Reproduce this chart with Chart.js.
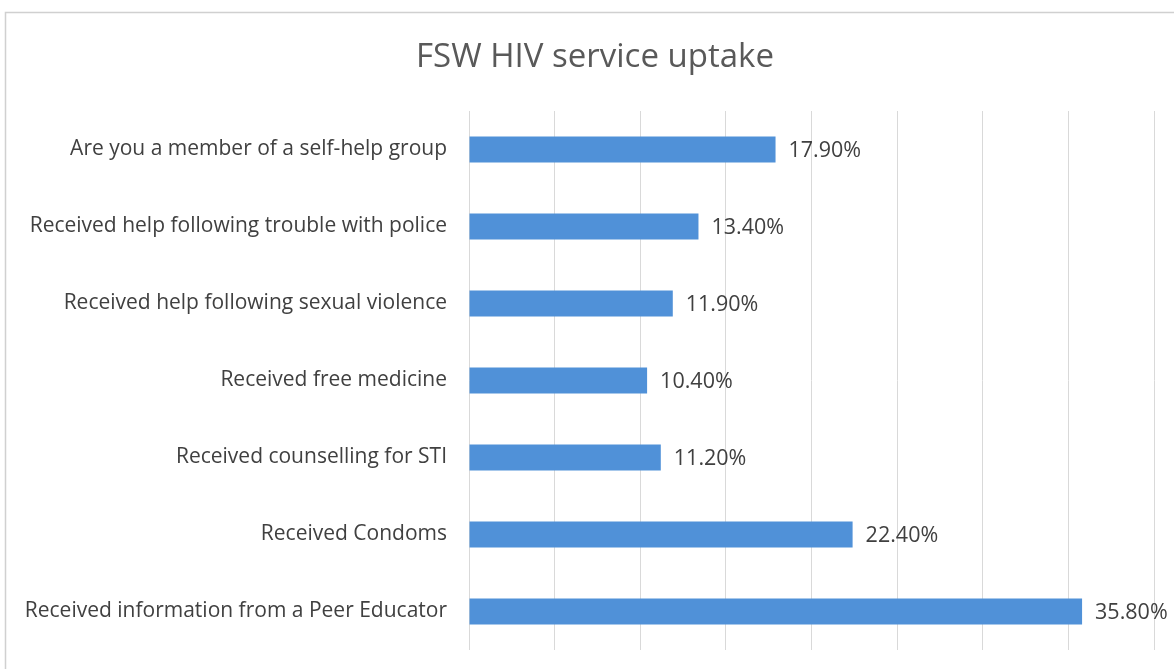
<!DOCTYPE html>
<html>
<head>
<meta charset="utf-8">
<script src="https://cdn.jsdelivr.net/npm/chart.js@4.4.0/dist/chart.umd.min.js"></script>
<style>
  body { margin: 0; background: #fff; }
  #wrap { width: 1174px; height: 669px; }
</style>
</head>
<body>
<div id="wrap"><canvas id="uptakeChart" width="1174" height="669"></canvas></div>
<script>
const chartTitle = "FSW HIV service uptake";
const categories = [
  "Are you a member of a self-help group",
  "Received help following trouble with police",
  "Received help following sexual violence",
  "Received free medicine",
  "Received counselling for STI",
  "Received Condoms",
  "Received information from a Peer Educator",
];
const uptake = [17.9, 13.4, 11.9, 10.4, 11.2, 22.4, 35.8];
const valueLabels = ["17.90%", "13.40%", "11.90%", "10.40%", "11.20%", "22.40%", "35.80%"];

const FONT = "'Open Sans', Lato, sans-serif";

// thin grey frame like the original picture, plus the title (sits a bit right of centre)
const frame = {
  id: "frame",
  beforeDraw(chart) {
    const c = chart.ctx;
    c.save();
    c.strokeStyle = "#d0d0d0";
    c.lineWidth = 1.5;
    c.strokeRect(5.5, 12.5, chart.width + 10, chart.height + 10);
    c.font = "33px " + FONT;
    c.fillStyle = "#595959";
    c.textAlign = "center";
    c.textBaseline = "middle";
    c.fillText(chartTitle, 595, 58);
    c.restore();
  },
};

// value labels at the end of each bar
const barValues = {
  id: "barValues",
  afterDatasetsDraw(chart) {
    const c = chart.ctx;
    const meta = chart.getDatasetMeta(0);
    c.save();
    c.font = "21.5px " + FONT;
    c.fillStyle = "#404040";
    c.textBaseline = "middle";
    c.textAlign = "left";
    meta.data.forEach((bar, i) => {
      c.fillText(valueLabels[i], bar.x + 13, bar.y + 1);
    });
    c.restore();
  },
};

const ctx = document.getElementById("uptakeChart").getContext("2d");

new Chart(ctx, {
  type: "bar",
  data: {
    labels: categories,
    datasets: [
      {
        data: uptake,
        backgroundColor: "#5091d8",
        borderWidth: 0,
        categoryPercentage: 1,
        barPercentage: 0.34,
      },
    ],
  },
  options: {
    indexAxis: "y",
    responsive: false,
    animation: false,
    layout: { padding: { left: 0, right: 20, top: 111, bottom: 19 } },
    scales: {
      x: {
        min: 0,
        max: 40,
        ticks: { display: false, stepSize: 5 },
        grid: { color: "#d9d9d9", lineWidth: 1, drawTicks: false },
        border: { display: false },
        afterFit(scale) {
          scale.height = 0;
        },
      },
      y: {
        ticks: {
          color: "#404040",
          font: { family: FONT, size: 21 },
          padding: 22,
        },
        grid: { display: false, drawTicks: false },
        border: { display: false },
        afterFit(scale) {
          scale.width = 469;
          scale.paddingTop = 0;
          scale.paddingBottom = 0;
        },
      },
    },
    plugins: {
      legend: { display: false },
      tooltip: { enabled: false },
      title: { display: false },
    },
  },
  plugins: [frame, barValues],
});
</script>
</body>
</html>
